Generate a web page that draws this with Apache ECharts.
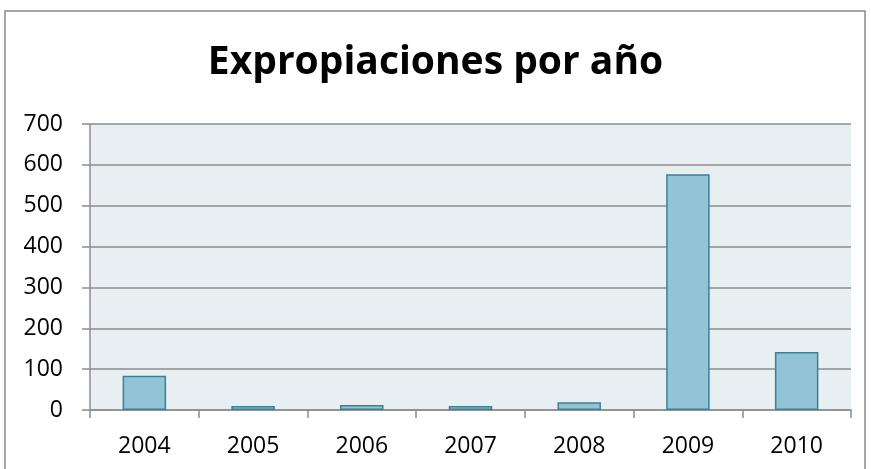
<!DOCTYPE html>
<html>
<head>
<meta charset="utf-8">
<script src="https://cdn.jsdelivr.net/npm/echarts@6/dist/echarts.min.js"></script>
<style>
  html, body { margin: 0; padding: 0; background: #fff; }
  #main { width: 871px; height: 469px; }
</style>
</head>
<body>
<div id="main"></div>
<script>
// datos
const years = ['2004', '2005', '2006', '2007', '2008', '2009', '2010']
const expropiaciones = [84, 10, 12, 10, 19, 577, 142]
const titleText = 'Expropiaciones por año'

const chart = echarts.init(document.getElementById('main'))

chart.setOption({
  animation: false,
  backgroundColor: '#fff',
  textStyle: { fontFamily: 'Open Sans' },
  title: {
    text: titleText,
    left: 'center',
    top: 38,
    textStyle: { fontFamily: 'Open Sans', fontWeight: 'bold', fontSize: 39, color: '#000' }
  },
  graphic: [{
    type: 'rect',
    shape: { x: 5, y: 11, width: 860, height: 500 },
    style: { fill: 'none', stroke: '#8a8a8a', lineWidth: 1.5 },
    silent: true
  }],
  grid: {
    left: 90, right: 20, top: 124, bottom: 59,
    show: true,
    backgroundColor: '#e8eff3',
    borderWidth: 0
  },
  xAxis: {
    type: 'category',
    data: years,
    axisLine: { lineStyle: { color: '#8c8c8c', width: 1.5 } },
    axisTick: { show: true, length: 8, lineStyle: { color: '#8c8c8c', width: 1.5 } },
    axisLabel: { color: '#000', fontSize: 23, margin: 25 }
  },
  yAxis: {
    type: 'value',
    min: 0, max: 700, interval: 100,
    axisLine: { show: true, lineStyle: { color: '#8c8c8c', width: 1.5 } },
    axisTick: { show: true, length: 8, lineStyle: { color: '#8c8c8c', width: 1.5 } },
    axisLabel: { color: '#000', fontSize: 23, margin: 27 },
    splitLine: { lineStyle: { color: '#8c8c8c', width: 1.5 } }
  },
  series: [{
    type: 'bar',
    data: expropiaciones,
    barWidth: '40%',
    itemStyle: { color: '#93c4d5', borderColor: '#3a8196', borderWidth: 1.5 }
  }]
})
</script>
</body>
</html>
